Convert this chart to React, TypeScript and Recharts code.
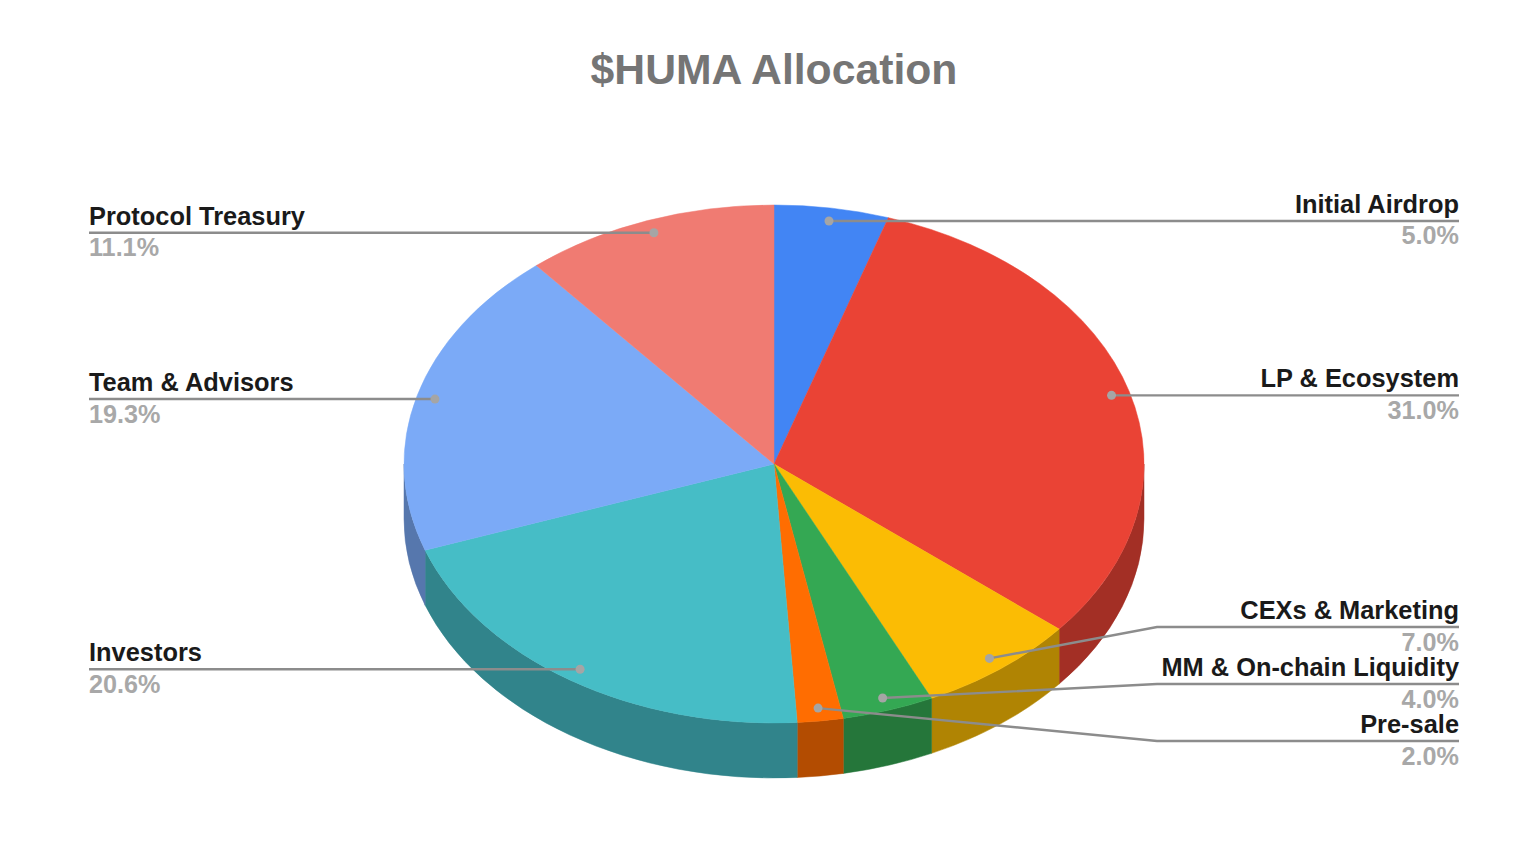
import { PieChart, Pie, Cell } from 'recharts';

const NAMES = [
  'Initial Airdrop',
  'LP & Ecosystem',
  'CEXs & Marketing',
  'MM & On-chain Liquidity',
  'Pre-sale',
  'Investors',
  'Team & Advisors',
  'Protocol Treasury',
];
const SHARES = [5.0, 31.0, 7.0, 4.0, 2.0, 20.6, 19.3, 11.1];

const TOP_COLORS = ['#4285F4', '#EA4335', '#FBBC04', '#34A853', '#FF6D01', '#46BDC6', '#7BAAF7', '#F07B72'];
const SIDE_COLORS = ['#2E5DAB', '#A32F25', '#B08403', '#25763A', '#B34C01', '#31848B', '#5677AD', '#A85650'];

// where the leader line meets the label column, only for the ones that bend
const ELBOW_Y: Record<string, number> = {
  'CEXs & Marketing': 627,
  'MM & On-chain Liquidity': 684,
  'Pre-sale': 741,
};

const WIDTH = 1538;
const HEIGHT = 846;
const CX = 774;
const CY = 464;
const RX = 370;
const SQUASH = 0.7;
const DEPTH = 55;
const ELBOW_X = 1157;
const RIGHT_X = 1459;
const LEFT_X = 89;
const FONT = '"Liberation Sans", Arial, sans-serif';

const data = NAMES.map((name, i) => ({ name, value: SHARES[i] }));

// recharts angles run counter-clockwise from 3 o'clock
const point = (angle: number, frac = 1, dy = 0) => {
  const rad = (angle * Math.PI) / 180;
  return {
    x: CX + RX * frac * Math.cos(rad),
    y: CY - RX * SQUASH * frac * Math.sin(rad) + dy,
  };
};

function TopSector({ startAngle, endAngle, fill }: any) {
  const a = point(startAngle);
  const b = point(endAngle);
  const large = Math.abs(startAngle - endAngle) > 180 ? 1 : 0;
  const ry = RX * SQUASH;
  return (
    <path
      d={`M${CX},${CY} L${a.x},${a.y} A${RX},${ry} 0 ${large} 1 ${b.x},${b.y} Z`}
      fill={fill}
      stroke={fill}
      strokeWidth={0.5}
    />
  );
}

function SideSector({ startAngle, endAngle, fill }: any) {
  // only the front half of the rim shows: 0 to -180 in recharts angles
  const from = Math.min(startAngle, 0);
  const to = Math.max(endAngle, -180);
  if (from <= to) return null;
  const ry = RX * SQUASH;
  const a = point(from);
  const b = point(to);
  const c = point(to, 1, DEPTH);
  const d = point(from, 1, DEPTH);
  return (
    <path
      d={`M${a.x},${a.y} A${RX},${ry} 0 0 1 ${b.x},${b.y} L${c.x},${c.y} A${RX},${ry} 0 0 0 ${d.x},${d.y} Z`}
      fill={fill}
      stroke={fill}
      strokeWidth={0.5}
    />
  );
}

function SliceLabel({ midAngle, name, value }: any) {
  const dot = point(midAngle, 0.95);
  const right = dot.x > CX;
  const elbow = ELBOW_Y[name];
  const lineY = elbow ?? dot.y;
  const edgeX = right ? RIGHT_X : LEFT_X;
  const pts = elbow
    ? `${dot.x},${dot.y} ${ELBOW_X},${elbow} ${edgeX},${elbow}`
    : `${dot.x},${dot.y} ${edgeX},${lineY}`;
  const anchor = right ? 'end' : 'start';
  return (
    <g>
      <polyline points={pts} fill="none" stroke="#8c8c8c" strokeWidth={2.4} />
      <circle cx={dot.x} cy={dot.y} r={4.5} fill="#a5a5a5" />
      <text x={edgeX} y={lineY - 8} textAnchor={anchor} fontFamily={FONT} fontWeight="bold" fontSize={25.4} fill="#1a1a1a">
        {name}
      </text>
      <text x={edgeX} y={lineY + 23.5} textAnchor={anchor} fontFamily={FONT} fontWeight="bold" fontSize={25.2} fill="#a8a8a8">
        {`${Number(value).toFixed(1)}%`}
      </text>
    </g>
  );
}

export default function App() {
  return (
    <div style={{ position: 'absolute', left: 0, top: 0, width: WIDTH, height: HEIGHT, background: '#fff' }}>
      <PieChart width={WIDTH} height={HEIGHT} margin={{ top: 0, right: 0, bottom: 0, left: 0 }}>
        <text x={CX} y={84} textAnchor="middle" fontFamily={FONT} fontWeight="bold" fontSize={42.7} fill="#757575">
          $HUMA Allocation
        </text>
        <Pie
          data={data}
          dataKey="value"
          nameKey="name"
          cx={CX}
          cy={CY}
          outerRadius={RX}
          startAngle={90}
          endAngle={-270}
          isAnimationActive={false}
          shape={SideSector}
          stroke="none"
        >
          {data.map((d, i) => (
            <Cell key={d.name} fill={SIDE_COLORS[i]} />
          ))}
        </Pie>
        <Pie
          data={data}
          dataKey="value"
          nameKey="name"
          cx={CX}
          cy={CY}
          outerRadius={RX}
          startAngle={90}
          endAngle={-270}
          isAnimationActive={false}
          shape={TopSector}
          stroke="none"
          label={SliceLabel}
          labelLine={false}
        >
          {data.map((d, i) => (
            <Cell key={d.name} fill={TOP_COLORS[i]} />
          ))}
        </Pie>
      </PieChart>
    </div>
  );
}
